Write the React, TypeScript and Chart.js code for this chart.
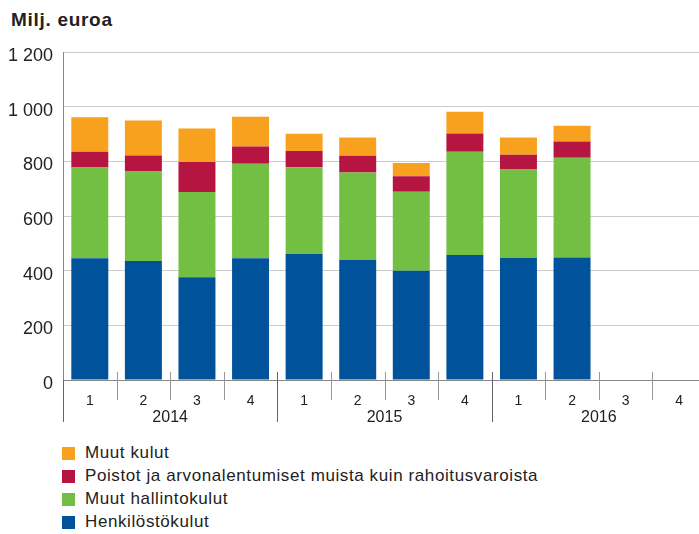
import React, { useEffect, useRef } from "react";
import { Chart, registerables } from "chart.js";

Chart.register(...registerables);

const quarters = ["1", "2", "3", "4", "1", "2", "3", "4", "1", "2", "3", "4"];
const years = ["2014", "2015", "2016"];
const henkilostokulut = [445, 435, 376, 445, 461, 439, 400, 457, 446, 448, null, null];
const muutHallintokulut = [332, 328, 312, 346, 317, 320, 289, 378, 324, 365, null, null];
const poistot = [58, 58, 110, 63, 60, 61, 56, 67, 54, 60, null, null];
const muutKulut = [126, 128, 122, 109, 63, 67, 49, 79, 63, 57, null, null];

const seriesNames = [
  "Muut kulut",
  "Poistot ja arvonalentumiset muista kuin rahoitusvaroista",
  "Muut hallintokulut",
  "Henkilöstökulut",
];
const colors = {
  blue: "#00529b",
  green: "#72bf44",
  red: "#b51540",
  orange: "#f7a11f",
};
const legendColors = [colors.orange, colors.red, colors.green, colors.blue];

const FONT = "'Liberation Sans', Arial, Helvetica, sans-serif";

const axisDecor = {
  id: "axisDecor",
  afterDraw(chart: any) {
    const ctx = chart.ctx;
    const xs = chart.scales.x;
    const bottom = chart.chartArea.bottom;
    const n = quarters.length;
    const boundary = (i: number) => {
      if (i === 0) return xs.left;
      if (i === n) return xs.getPixelForValue(n - 1) + (xs.getPixelForValue(n - 1) - xs.getPixelForValue(n - 2)) / 2;
      return (xs.getPixelForValue(i - 1) + xs.getPixelForValue(i)) / 2;
    };
    ctx.save();
    ctx.lineWidth = 1;
    for (let i = 0; i <= n; i++) {
      const x = Math.round(boundary(i)) + 0.5;
      const isYear = i % 4 === 0;
      ctx.strokeStyle = isYear ? "#666" : "#999";
      ctx.beginPath();
      ctx.moveTo(x, i === 0 ? bottom : bottom - 8);
      ctx.lineTo(x, bottom + (isYear ? 42 : 20));
      ctx.stroke();
    }
    ctx.fillStyle = "#222";
    ctx.font = "16px " + FONT;
    ctx.textAlign = "center";
    ctx.textBaseline = "middle";
    years.forEach((y, j) => {
      const x0 = boundary(j * 4);
      const x1 = boundary(j * 4 + 4);
      ctx.fillText(y, (x0 + x1) / 2, bottom + 38);
    });
    ctx.restore();
  },
};

export default function App() {
  const ref = useRef<HTMLCanvasElement>(null);
  useEffect(() => {
    const chart = new Chart(ref.current as HTMLCanvasElement, {
      type: "bar",
      data: {
        labels: quarters,
        datasets: [
          { label: seriesNames[3], data: henkilostokulut, backgroundColor: colors.blue },
          { label: seriesNames[2], data: muutHallintokulut, backgroundColor: colors.green },
          { label: seriesNames[1], data: poistot, backgroundColor: colors.red },
          { label: seriesNames[0], data: muutKulut, backgroundColor: colors.orange },
        ],
      },
      options: {
        animation: false,
        responsive: false,
        devicePixelRatio: 1,
        layout: { padding: { top: 52, left: 0, right: 0, bottom: 0 } },
        datasets: { bar: { categoryPercentage: 1, barPercentage: 0.69 } },
        plugins: { legend: { display: false }, tooltip: { enabled: false } },
        scales: {
          x: {
            stacked: true,
            afterFit: (s: any) => {
              s.height = 60;
            },
            grid: { display: false },
            border: { display: true, color: "#888", width: 1 },
            ticks: { font: { family: FONT, size: 14 }, color: "#222", padding: 5, maxRotation: 0, autoSkip: false },
          },
          y: {
            stacked: true,
            min: 0,
            max: 1200,
            afterFit: (s: any) => {
              s.width = 63;
            },
            grid: { color: "#cccccc", drawTicks: false, lineWidth: 1 },
            border: { display: true, color: "#888", width: 1 },
            ticks: {
              stepSize: 200,
              padding: 10,
              labelOffset: 4,
              color: "#222",
              font: { family: FONT, size: 18 },
              callback: (v: any) => {
                const s = String(v);
                return s.length > 3 ? s.slice(0, s.length - 3) + " " + s.slice(-3) : s;
              },
            },
          },
        },
      },
      plugins: [axisDecor],
    });
    return () => chart.destroy();
  }, []);

  return (
    <div
      style={{
        position: "fixed",
        left: 0,
        top: 0,
        width: 699,
        height: 534,
        overflow: "hidden",
        background: "#fff",
        fontFamily: FONT,
      }}
    >
      <div
        style={{
          position: "absolute",
          left: 11,
          top: 9,
          fontSize: 19,
          fontWeight: "bold",
          color: "#222",
          letterSpacing: "0.7px",
          lineHeight: "22px",
        }}
      >
        Milj. euroa
      </div>
      <canvas ref={ref} width={706} height={440} style={{ position: "absolute", left: 0, top: 0, display: "block" }} />
      <div style={{ position: "absolute", left: 62, top: 442 }}>
        {seriesNames.map((name, i) => (
          <div key={name} style={{ display: "flex", alignItems: "center", height: 22.9 }}>
            <span style={{ display: "inline-block", width: 13, height: 13, background: legendColors[i], marginRight: 10 }} />
            <span style={{ fontSize: 17, color: "#222", letterSpacing: "0.6px", whiteSpace: "nowrap" }}>{name}</span>
          </div>
        ))}
      </div>
    </div>
  );
}
